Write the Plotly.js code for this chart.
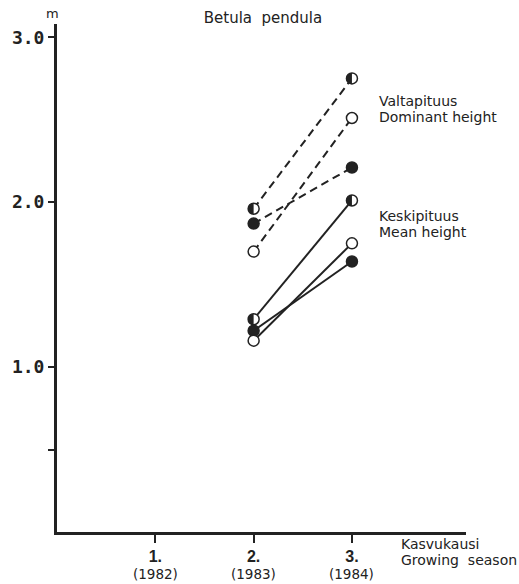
<!DOCTYPE html>
<html><head><meta charset="utf-8">
<script src="https://cdn.plot.ly/plotly-3.0.1.min.js"></script>
<style>html,body{margin:0;padding:0;background:#fff;}#chart{width:519px;height:584px;}</style>
</head><body><div id="chart"></div>
<script>
// Growing season positions
const seasons = [2, 3];
const seasonTicks = [1, 2, 3];
const seasonLabels = ['1.', '2.', '3.'];
const seasonYears = ['(1982)', '(1983)', '(1984)'];

// Dominant height (dashed lines), m
const domHalf = [1.96, 2.75];
const domFilled = [1.87, 2.21];
const domOpen = [1.70, 2.51];

// Mean height (solid lines), m
const meanHalf = [1.29, 2.01];
const meanFilled = [1.22, 1.64];
const meanOpen = [1.16, 1.75];

const yTicks = [0.5, 1, 2, 3];
const yTickText = ['', '1.0', '2.0', '3.0'];

const INK = '#222';
const MS = 11;

function lineTrace(y, dash) {
  return {x: seasons, y: y, mode: 'lines', type: 'scatter', hoverinfo: 'skip',
    line: {color: INK, width: 2, dash: dash}};
}
function markTrace(y, kind) {
  return {x: seasons, y: y, mode: 'markers', type: 'scatter', hoverinfo: 'skip',
    marker: {symbol: 'circle', size: MS,
      color: kind === 'filled' ? INK : '#fff',
      line: {color: INK, width: 1.5}}};
}

const traces = [
  lineTrace(domHalf, '8px,5px'), lineTrace(domFilled, '8px,5px'), lineTrace(domOpen, '8px,5px'),
  lineTrace(meanHalf, 'solid'), lineTrace(meanFilled, 'solid'), lineTrace(meanOpen, 'solid'),
  markTrace(domHalf, 'half'), markTrace(domFilled, 'filled'), markTrace(domOpen, 'open'),
  markTrace(meanHalf, 'half'), markTrace(meanFilled, 'filled'), markTrace(meanOpen, 'open')
];

// left half filled circles for half markers
const r = MS / 2;
let pts = [];
for (let i = 0; i <= 16; i++) {
  const a = Math.PI / 2 + Math.PI * i / 16;
  pts.push([(r * Math.cos(a)).toFixed(2), (r * Math.sin(a)).toFixed(2)]);
}
const halfPath = 'M' + pts.map(p => p[0] + ',' + p[1]).join(' L') + ' Z';
const shapes = [];
[domHalf, meanHalf].forEach(arr => {
  arr.forEach((v, i) => {
    shapes.push({type: 'path', xref: 'x', yref: 'y', xsizemode: 'pixel', ysizemode: 'pixel',
      xanchor: seasons[i], yanchor: v, path: halfPath,
      fillcolor: INK, line: {width: 0}, layer: 'above'});
  });
});

const L = 57, R = 466, T = 24, B = 532;
const px = x => (x - L) / (R - L);
const py = y => (B - y) / (B - T);
const SANS = 'DejaVu Sans, Verdana, sans-serif';

function note(text, x, y, size, anchor) {
  return {text: text, x: px(x), y: py(y), xref: 'paper', yref: 'paper', showarrow: false,
    xanchor: anchor || 'left', yanchor: 'middle', align: 'left',
    font: {family: SANS, size: size || 14, color: INK}};
}

const annotations = [
  note('m', 52, 13, 13, 'center'),
  note('Valtapituus', 377, 101),
  note('Dominant height', 377, 117),
  note('Keskipituus', 377, 216),
  note('Mean height', 377, 232),
  note('Kasvukausi', 399, 544),
  note('Growing\u00a0\u00a0season', 399, 560)
];
seasonTicks.forEach((s, i) => {
  annotations.push({text: seasonYears[i], x: s, xref: 'x', y: py(574), yref: 'paper',
    showarrow: false, xanchor: 'center', yanchor: 'middle',
    font: {family: SANS, size: 13.5, color: INK}});
});

const layout = {
  width: 519, height: 584,
  margin: {l: L, r: 519 - R, t: T, b: 584 - B},
  paper_bgcolor: '#fff', plot_bgcolor: '#fff',
  showlegend: false,
  title: {text: 'Betula\u00a0\u00a0pendula', xref: 'container', yref: 'container', x: 263 / 519, y: 1 - 18 / 584,
    xanchor: 'center', yanchor: 'middle', font: {family: SANS, size: 15, color: INK}},
  xaxis: {range: [0, 4.16], showgrid: false, zeroline: false, showline: true, linecolor: INK, linewidth: 3,
    tickvals: seasonTicks, ticktext: seasonLabels, ticks: 'outside', ticklen: 8, tickwidth: 2, tickcolor: INK,
    tickfont: {family: 'Liberation Sans, Arial, sans-serif', size: 16, weight: 'bold', color: INK}, fixedrange: true},
  yaxis: {range: [0, 3.08], showgrid: false, zeroline: false, showline: true, linecolor: INK, linewidth: 3,
    tickvals: yTicks, ticktext: yTickText, ticks: 'outside', ticklen: 6, tickwidth: 2, tickcolor: INK,
    tickfont: {family: 'DejaVu Sans Mono, monospace', size: 18, weight: 'bold', color: INK}, fixedrange: true},
  shapes: shapes,
  annotations: annotations
};

Plotly.newPlot('chart', traces, layout, {staticPlot: true, displayModeBar: false});
</script>
</body></html>
